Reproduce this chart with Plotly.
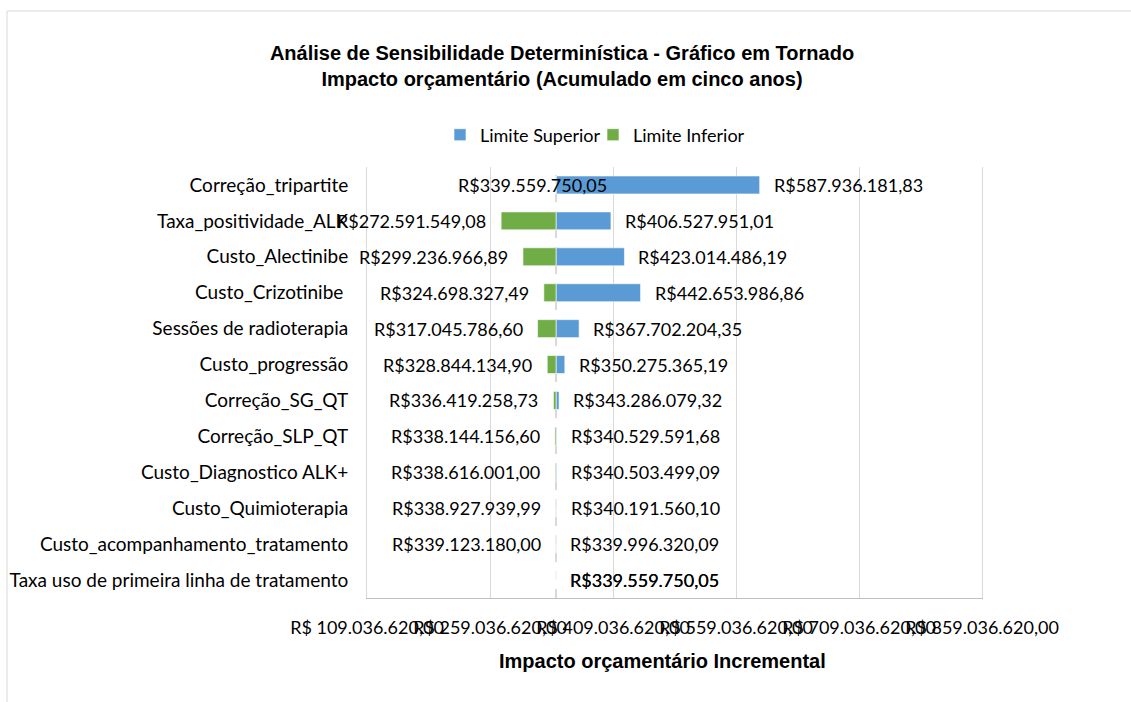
import plotly.graph_objects as go

# ---------------- data ----------------
categories = [
    "Correção_tripartite",
    "Taxa_positividade_ALK",
    "Custo_Alectinibe",
    "Custo_Crizotinibe\u00a0",
    "Sessões de radioterapia",
    "Custo_progressão",
    "Correção_SG_QT",
    "Correção_SLP_QT",
    "Custo_Diagnostico ALK+",
    "Custo_Quimioterapia",
    "Custo_acompanhamento_tratamento",
    "Taxa uso de primeira linha de tratamento",
]
lower_values = [
    339559750.05, 272591549.08, 299236966.89, 324698327.49, 317045786.60,
    328844134.90, 336419258.73, 338144156.60, 338616001.00, 338927939.99,
    339123180.00, 339559750.05,
]
upper_values = [
    587936181.83, 406527951.01, 423014486.19, 442653986.86, 367702204.35,
    350275365.19, 343286079.32, 340529591.68, 340503499.09, 340191560.10,
    339996320.09, 339559750.05,
]
base_value = 339559750.05
tick_values = [109036620, 259036620, 409036620, 559036620, 709036620, 859036620]

# label placement style (anchor, pixel shift) for the lower-limit labels
lower_label_anchor = ["right"] * 11 + ["left"]
lower_label_shift = [53] + [-13] * 10 + [12]
UPPER_SHIFT = 12


def brl(v, space=False):
    s = f"{v:,.2f}".replace(",", "X").replace(".", ",").replace("X", ".")
    return ("R$ " if space else "R$") + s


# ---------------- layout geometry ----------------
FIG_W, FIG_H = 1131, 702
M_L, M_R, M_T, M_B = 367, 149, 167, 104
PW = FIG_W - M_L - M_R
PH = FIG_H - M_T - M_B


def px_x(p):
    return (p - M_L) / PW


def px_y(p):
    return (FIG_H - M_B - p) / PH


CAT_FONT = dict(family="Lato, 'Open Sans', sans-serif", size=19, color="#000000")
LABEL_FONT = dict(family="Lato, 'Open Sans', sans-serif", size=18, color="#000000")
BOLD_FONT = dict(family="'Liberation Sans', Arial, sans-serif", size=20, color="#000000")

fig = go.Figure()
fig.add_trace(go.Bar(
    y=categories,
    x=[u - base_value for u in upper_values],
    base=base_value,
    orientation="h",
    name="Limite Superior",
    width=0.5,
    marker=dict(color="#5B9BD5", line=dict(color="#FFFFFF", width=0.6)),
    hoverinfo="skip",
))
fig.add_trace(go.Bar(
    y=categories,
    x=[l - base_value for l in lower_values],
    base=base_value,
    orientation="h",
    name="Limite Inferior",
    width=0.5,
    marker=dict(color="#70AD47", line=dict(color="#FFFFFF", width=0.6)),
    hoverinfo="skip",
))

annotations = []
for cat, lo, up, anc, sh in zip(categories, lower_values, upper_values,
                                lower_label_anchor, lower_label_shift):
    annotations.append(dict(x=up, y=cat, xref="x", yref="y", text=brl(up),
                            showarrow=False, xanchor="left", xshift=UPPER_SHIFT,
                            font=LABEL_FONT))
    annotations.append(dict(x=lo, y=cat, xref="x", yref="y", text=brl(lo),
                            showarrow=False, xanchor=anc, xshift=sh,
                            font=LABEL_FONT))

annotations.append(dict(x=px_x(662), y=px_y(661), xref="paper", yref="paper",
                        text="<b>Impacto orçamentário Incremental</b>",
                        showarrow=False, xanchor="center", yanchor="middle",
                        font=BOLD_FONT))

shapes = [
    dict(type="line", x0=base_value, x1=base_value, xref="x", y0=0, y1=1,
         yref="paper", line=dict(color="#D9D9D9", width=2, dash="dash"),
         layer="below"),
    dict(type="rect", x0=px_x(7), x1=px_x(1140), y0=px_y(11), y1=px_y(710),
         xref="paper", yref="paper", line=dict(color="#D9D9D9", width=1),
         fillcolor="rgba(0,0,0,0)", layer="below"),
]

fig.update_layout(
    width=FIG_W, height=FIG_H,
    margin=dict(l=M_L, r=M_R, t=M_T, b=M_B, autoexpand=False),
    paper_bgcolor="#FFFFFF", plot_bgcolor="#FFFFFF",
    barmode="overlay",
    title=dict(
        text="<b>Análise de Sensibilidade Determinística - Gráfico em Tornado<br>"
             "Impacto orçamentário (Acumulado em cinco anos)</b>",
        x=562 / FIG_W, xanchor="center", y=1 - 59.5 / FIG_H, yanchor="middle",
        xref="container", yref="container", font=BOLD_FONT,
    ),
    legend=dict(orientation="h", x=px_x(440), xanchor="left",
                y=px_y(135), yanchor="middle", font=LABEL_FONT,
                entrywidth=108, entrywidthmode="pixels",
                bgcolor="rgba(0,0,0,0)", traceorder="normal"),
    xaxis=dict(
        range=[tick_values[0], tick_values[-1]],
        tickvals=tick_values,
        ticktext=[brl(v, space=True) for v in tick_values],
        tickangle=0,
        showgrid=True, gridcolor="#D9D9D9", gridwidth=1,
        zeroline=False, showline=True, linecolor="#BFBFBF", linewidth=1,
        tickfont=LABEL_FONT, ticks="", ticklabelstandoff=13,
    ),
    yaxis=dict(
        autorange="reversed", showgrid=False, zeroline=False,
        showline=True, linecolor="#D9D9D9", linewidth=1, mirror=True,
        tickfont=CAT_FONT, ticks="", ticklabelstandoff=14,
    ),
    annotations=annotations,
    shapes=shapes,
    showlegend=True,
)

fig.write_html("out.html",
               config={"displayModeBar": False},
               post_script="document.body.style.margin='0';"
                           "document.body.style.overflow='hidden';")
